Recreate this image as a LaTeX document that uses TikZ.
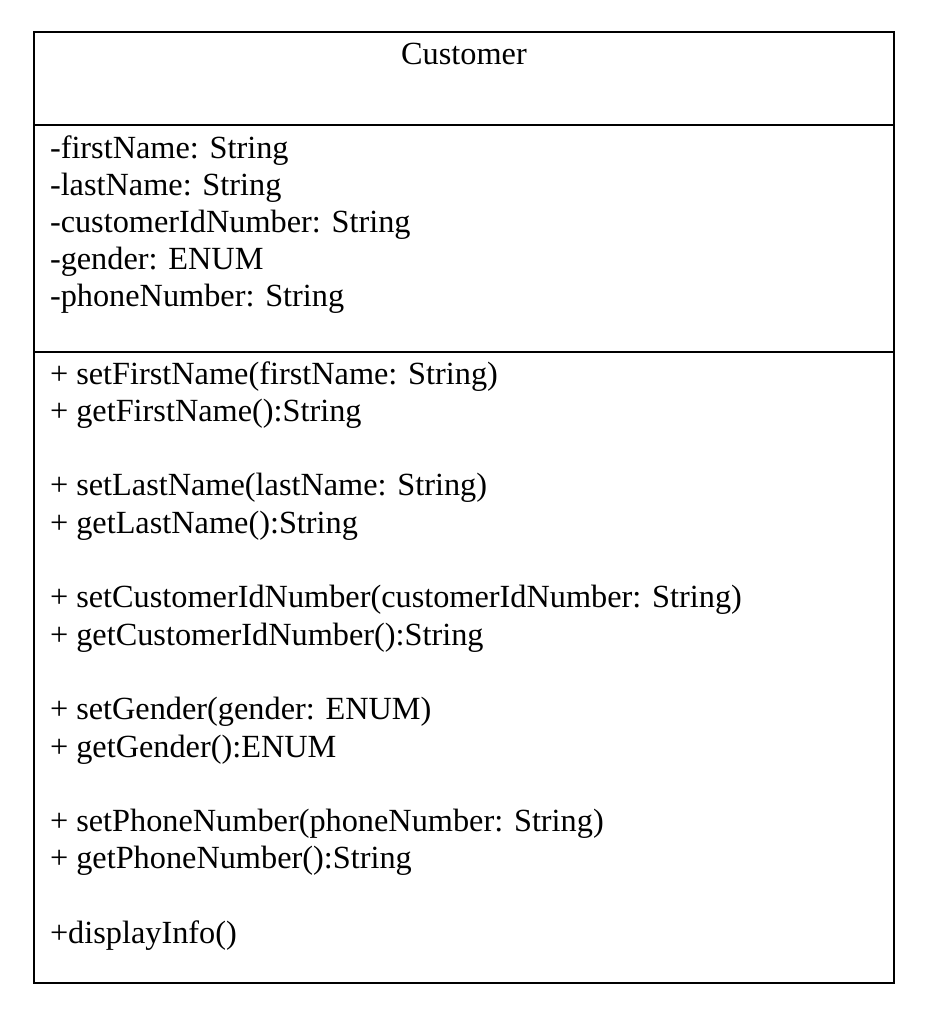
\documentclass[tikz,border=0pt]{standalone}
\usepackage{fontspec}
\setmainfont{Liberation Serif}
\usetikzlibrary{positioning}
\tikzset{every picture/.style={line width=2pt}}
\tikzstyle{member}=[anchor=base west,inner sep=0pt]
\tikzstyle{classbox}=[draw,anchor=north west,inner sep=0pt,minimum width=860pt,minimum height=951pt]
\begin{document}
\begin{tikzpicture}[x=1pt,y=-1pt,font=\fontsize{32.3}{37}\selectfont]
\useasboundingbox (0,0) rectangle (940,1013);
\node[classbox] (box) at (33,31) {};
\node[anchor=base,inner sep=0pt] (name) at (464,64) {Customer};
% compartments
\coordinate (c1) at (0,125);
\coordinate (c2) at (0,352);
\draw (box.west |- c1) -- (box.east |- c1);
\draw (box.west |- c2) -- (box.east |- c2);
% attributes
\foreach \txt [count=\i from 0] in {{-firstName: String},{-lastName: String},
  {-customerIdNumber: String},{-gender: ENUM},{-phoneNumber: String}}
  \node[member] (attr\i) at (49,{158+37*\i}) {\txt};
% operations
\foreach \k/\txt in {0/{+ setFirstName(firstName: String)},1/{+ getFirstName():String},
  3/{+ setLastName(lastName: String)},4/{+ getLastName():String},
  6/{+ setCustomerIdNumber(customerIdNumber: String)},7/{+ getCustomerIdNumber():String},
  9/{+ setGender(gender: ENUM)},10/{+ getGender():ENUM},
  12/{+ setPhoneNumber(phoneNumber: String)},13/{+ getPhoneNumber():String},
  15/{+displayInfo()}}
  \node[member] (op\k) at (49,{384+37.3*\k}) {\txt};
\end{tikzpicture}
\end{document}
